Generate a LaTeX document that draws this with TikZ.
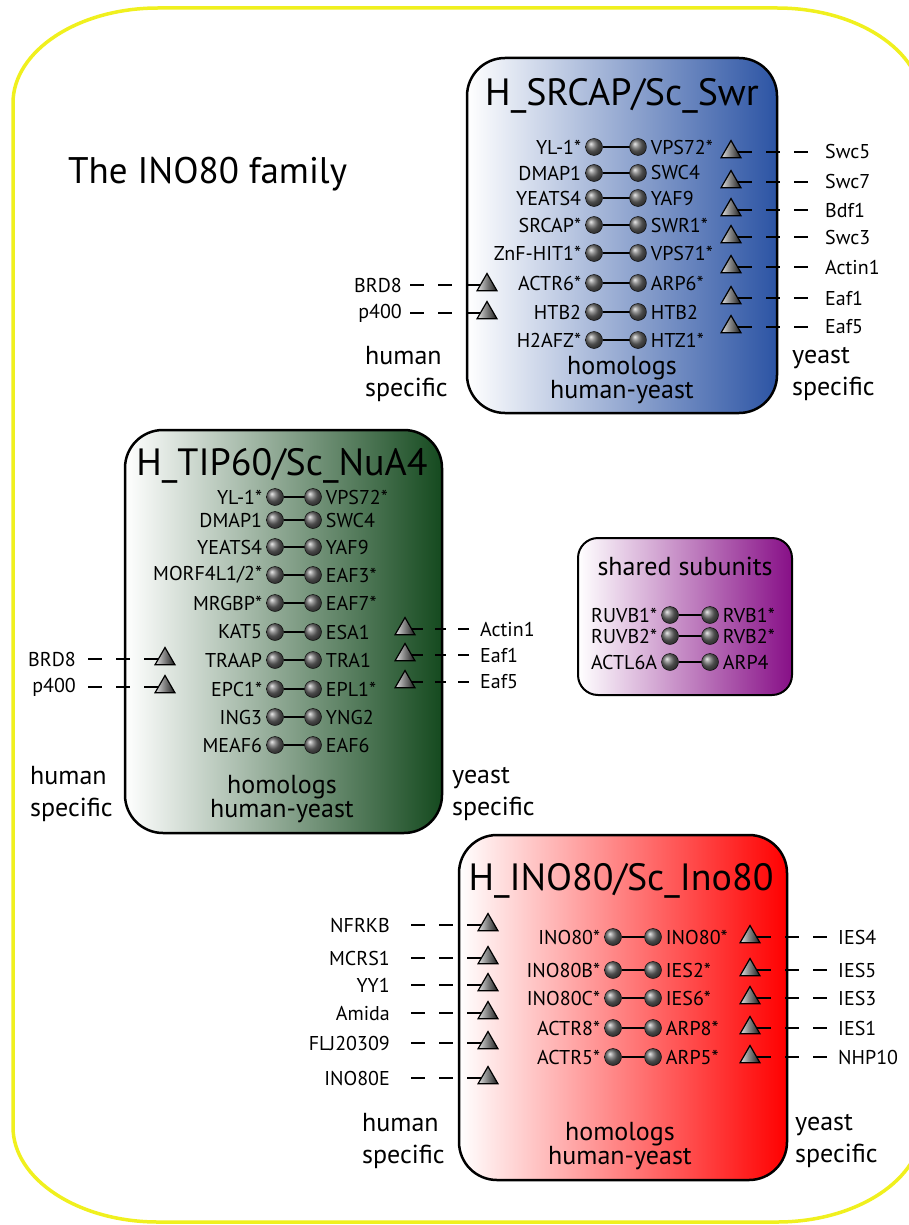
\documentclass[tikz,border=0pt]{standalone}
\usepackage{fontspec}
\setmainfont{PT Sans}
\usetikzlibrary{positioning,shapes.geometric}

\definecolor{frameyellow}{RGB}{240,240,30}
\definecolor{swrblue}{RGB}{44,84,164}
\definecolor{nuagreen}{RGB}{21,74,31}
\definecolor{sharedpurple}{RGB}{135,15,135}
\definecolor{inored}{RGB}{255,0,0}

\begin{document}
\begin{tikzpicture}[x=1pt, y=-1pt,
    ball/.style={circle, draw, thin, shading=ball, ball color=gray!85!black, minimum size=17pt, inner sep=0pt},
    tri/.style={regular polygon, regular polygon sides=3, draw, line width=1.2pt, left color=gray!25, right color=black!90, minimum size=23pt, inner sep=0pt},
    lbl/.style={font=\fontsize{20}{22}\selectfont, inner sep=0pt},
    big/.style={font=\fontsize{38}{40}\selectfont, inner sep=0pt},
    homol/.style={font=\fontsize{26}{23}\selectfont, inner sep=0pt, align=center},
    spec/.style={font=\fontsize{26}{32}\selectfont, inner sep=0pt, align=left, anchor=west},
    pair/.style={line width=1.2pt},
    dashline/.style={line width=1.2pt, dash pattern=on 14pt off 14pt, shorten >=7pt},
    complexbox/.style={draw, line width=2.5pt, rounded corners=38pt}]
  \useasboundingbox (0,0) rectangle (908,1225);
  \draw[frameyellow, line width=3.5pt] (13,103) .. controls (13,51) and (78,8) .. (158,8)
    -- (777,8) .. controls (857,8) and (922,51) .. (922,103) -- (922,1127)
    .. controls (922,1179) and (857,1222) .. (777,1222) -- (158,1222)
    .. controls (78,1222) and (13,1179) .. (13,1127) -- cycle;
  \node[font=\fontsize{37}{40}\selectfont, inner sep=0pt, anchor=base west] (family) at (68,183) {The INO80 family};

  % H_SRCAP / Sc_Swr
  \path[complexbox, left color=white, right color=swrblue] (467,58) rectangle (777,413);
  \node[big, anchor=base] (srtitle) at (622,106) {H\_SRCAP/Sc\_Swr};
  \foreach \y/\h/\s [count=\i] in {147/YL-1*/VPS72*, 173/DMAP1/SWC4, 198/YEATS4/YAF9, 225/SRCAP*/SWR1*,
      253/ZnF-HIT1*/VPS71*, 283/ACTR6*/ARP6*, 312/HTB2/HTB2, 340/H2AFZ*/HTZ1*}{
    \node[ball] (srh\i) at (594,\y) {};
    \node[ball] (srs\i) at (638,\y) {};
    \draw[pair] (srh\i) -- (srs\i);
    \node[lbl, left=4pt of srh\i] {\h};
    \node[lbl, right=4pt of srs\i] {\s};
  }
  \foreach \y/\t [count=\i] in {152/Swc5, 182/Swc7, 210/Bdf1, 237/Swc3, 267/Actin1, 298/Eaf1, 327/Eaf5}{
    \node[tri] (srt\i) at (731,\y) {};
    \node[lbl, anchor=west] (sry\i) at (825,\y) {\t};
    \draw[dashline] (srt\i.east) -- (sry\i.west);
  }
  \foreach \y/\t [count=\i] in {285/BRD8, 313/p400}{
    \node[tri] (srl\i) at (487,\y) {};
    \node[lbl, anchor=east] (srx\i) at (402,\y) {\t};
    \draw[dashline] (srl\i.west) -- (srx\i.east);
  }
  \node[spec] (srhum) at (365,374) {human\\specific};
  \node[homol] (srhom) at (622,380) {homologs\\human-yeast};
  \node[spec] (sryst) at (792,374) {yeast\\specific};

  % H_TIP60 / Sc_NuA4
  \path[complexbox, left color=white, right color=nuagreen] (125,430) rectangle (442,833);
  \node[big, anchor=base] (tptitle) at (282,475) {H\_TIP60/Sc\_NuA4};
  \foreach \y/\h/\s [count=\i] in {497/YL-1*/VPS72*, 520/DMAP1/SWC4, 547/YEATS4/YAF9, 575/{MORF4L1/2*}/EAF3*,
      603/MRGBP*/EAF7*, 632/KAT5/ESA1, 660/TRAAP/TRA1, 689/EPC1*/EPL1*, 717/ING3/YNG2, 745/MEAF6/EAF6}{
    \node[ball] (tph\i) at (275,\y) {};
    \node[ball] (tps\i) at (313,\y) {};
    \draw[pair] (tph\i) -- (tps\i);
    \node[lbl, left=4pt of tph\i] {\h};
    \node[lbl, right=4pt of tps\i] {\s};
  }
  \foreach \y/\t [count=\i] in {629/Actin1, 655/Eaf1, 682/Eaf5}{
    \node[tri] (tpt\i) at (405,\y) {};
    \node[lbl, anchor=west] (tpy\i) at (480,\y) {\t};
    \draw[dashline, dash pattern=on 11pt off 12pt] (tpt\i.east) -- (tpy\i.west);
  }
  \foreach \y/\t [count=\i] in {659/BRD8, 687/p400}{
    \node[tri] (tpl\i) at (165,\y) {};
    \node[lbl, anchor=east] (tpx\i) at (76,\y) {\t};
    \draw[dashline] (tpl\i.west) -- (tpx\i.east);
  }
  \node[spec] (tphum) at (30,794) {human\\specific};
  \node[homol] (tphom) at (282,799) {homologs\\human-yeast};
  \node[spec] (tpyst) at (452,794) {yeast\\specific};

  % shared subunits
  \path[draw, line width=2pt, rounded corners=20pt, left color=white, right color=sharedpurple] (578,538) rectangle (792,695);
  \node[font=\fontsize{26}{28}\selectfont, inner sep=0pt, anchor=base] (shtitle) at (685,575) {shared subunits};
  \foreach \y/\h/\s [count=\i] in {615/RUVB1*/RVB1*, 636/RUVB2*/RVB2*, 662/ACTL6A/ARP4}{
    \node[ball] (shh\i) at (670,\y) {};
    \node[ball] (shs\i) at (710,\y) {};
    \draw[pair] (shh\i) -- (shs\i);
    \node[lbl, left=4pt of shh\i] {\h};
    \node[lbl, right=4pt of shs\i] {\s};
  }

  % H_INO80 / Sc_Ino80
  \path[complexbox, left color=white, right color=inored] (459,835) rectangle (787,1180);
  \node[big, anchor=base] (intitle) at (621,890) {H\_INO80/Sc\_Ino80};
  \foreach \y/\h/\s/\t [count=\i] in {937/INO80*/INO80*/IES4, 970/INO80B*/IES2*/IES5, 998/INO80C*/IES6*/IES3,
      1028/ACTR8*/ARP8*/IES1, 1057/ACTR5*/ARP5*/NHP10}{
    \node[ball] (inh\i) at (613,\y) {};
    \node[ball] (ins\i) at (653,\y) {};
    \draw[pair] (inh\i) -- (ins\i);
    \node[lbl, left=4pt of inh\i] {\h};
    \node[lbl, right=4pt of ins\i] {\s};
    \node[tri] (int\i) at (750,\y) {};
    \node[lbl, anchor=west] (iny\i) at (838,\y) {\t};
    \draw[dashline] (int\i.east) -- (iny\i.west);
  }
  \foreach \y/\t [count=\i] in {925/NFRKB, 958/MCRS1, 985/YY1, 1013/Amida, 1043/FLJ20309, 1078/INO80E}{
    \node[tri] (inl\i) at (488,\y) {};
    \node[lbl, anchor=east] (inx\i) at (390,\y) {\t};
    \draw[dashline] (inl\i.west) -- (inx\i.east);
  }
  \node[spec] (inhum) at (362,1141) {human\\specific};
  \node[homol] (inhom) at (620,1146) {homologs\\human-yeast};
  \node[spec] (inyst) at (795,1141) {yeast\\specific};
\end{tikzpicture}
\end{document}
